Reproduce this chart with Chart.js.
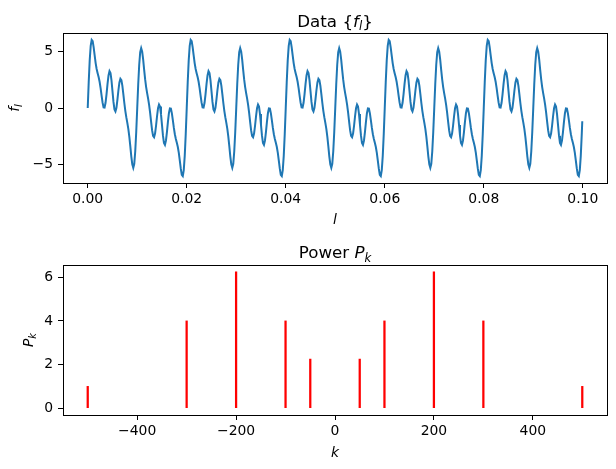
<!DOCTYPE html>
<html>
<head>
<meta charset="utf-8">
<script src="https://cdn.jsdelivr.net/npm/chart.js@4.4.0/dist/chart.umd.min.js"></script>
<style>
body { margin: 0; background: #fff; }
#wrap { position: relative; width: 616px; height: 469px; }
canvas { position: absolute; left: 0; }
#top { top: 0; }
#bottom { top: 234px; }
</style>
</head>
<body>
<div id="wrap">
<canvas id="top" width="616" height="234"></canvas>
<canvas id="bottom" width="616" height="235"></canvas>
</div>
<script>
// signal f_l, one sample every 0.0002 s, last sample at 0.0999
const sampleStep = 0.0002;
const lastTime = 0.0999;
const signal = [
    0, 2.29, 4.21, 5.49, 6.03, 5.92, 5.37, 4.65, 3.97, 3.45, 3.08, 2.74, 2.32, 1.76, 1.10, 0.47, 0.06, 0.04, 0.46, 1.22,
    2.13, 2.89, 3.26, 3.10, 2.45, 1.50, 0.54, -0.13, -0.31, 0.02, 0.73, 1.57, 2.26, 2.59, 2.47, 1.96, 1.21, 0.42, -0.27, -0.83,
    -1.31, -1.85, -2.53, -3.37, -4.27, -4.99, -5.29, -4.93, -3.83, -2.10, 0, 2.10, 3.83, 4.93, 5.29, 4.99, 4.27, 3.37, 2.53, 1.85,
    1.31, 0.83, 0.27, -0.42, -1.21, -1.96, -2.47, -2.59, -2.26, -1.57, -0.73, -0.02, 0.31, 0.13, -0.54, -1.50, -2.45, -3.10, -3.26, -2.89,
    -2.13, -1.22, -0.46, -0.04, -0.06, -0.47, -1.10, -1.76, -2.32, -2.74, -3.08, -3.45, -3.97, -4.65, -5.37, -5.92, -6.03, -5.49, -4.21, -2.29,

    0, 2.29, 4.21, 5.49, 6.03, 5.92, 5.37, 4.65, 3.97, 3.45, 3.08, 2.74, 2.32, 1.76, 1.10, 0.47, 0.06, 0.04, 0.46, 1.22,
    2.13, 2.89, 3.26, 3.10, 2.45, 1.50, 0.54, -0.13, -0.31, 0.02, 0.73, 1.57, 2.26, 2.59, 2.47, 1.96, 1.21, 0.42, -0.27, -0.83,
    -1.31, -1.85, -2.53, -3.37, -4.27, -4.99, -5.29, -4.93, -3.83, -2.10, 0, 2.10, 3.83, 4.93, 5.29, 4.99, 4.27, 3.37, 2.53, 1.85,
    1.31, 0.83, 0.27, -0.42, -1.21, -1.96, -2.47, -2.59, -2.26, -1.57, -0.73, -0.02, 0.31, 0.13, -0.54, -1.50, -2.45, -3.10, -3.26, -2.89,
    -2.13, -1.22, -0.46, -0.04, -0.06, -0.47, -1.10, -1.76, -2.32, -2.74, -3.08, -3.45, -3.97, -4.65, -5.37, -5.92, -6.03, -5.49, -4.21, -2.29,

    0, 2.29, 4.21, 5.49, 6.03, 5.92, 5.37, 4.65, 3.97, 3.45, 3.08, 2.74, 2.32, 1.76, 1.10, 0.47, 0.06, 0.04, 0.46, 1.22,
    2.13, 2.89, 3.26, 3.10, 2.45, 1.50, 0.54, -0.13, -0.31, 0.02, 0.73, 1.57, 2.26, 2.59, 2.47, 1.96, 1.21, 0.42, -0.27, -0.83,
    -1.31, -1.85, -2.53, -3.37, -4.27, -4.99, -5.29, -4.93, -3.83, -2.10, 0, 2.10, 3.83, 4.93, 5.29, 4.99, 4.27, 3.37, 2.53, 1.85,
    1.31, 0.83, 0.27, -0.42, -1.21, -1.96, -2.47, -2.59, -2.26, -1.57, -0.73, -0.02, 0.31, 0.13, -0.54, -1.50, -2.45, -3.10, -3.26, -2.89,
    -2.13, -1.22, -0.46, -0.04, -0.06, -0.47, -1.10, -1.76, -2.32, -2.74, -3.08, -3.45, -3.97, -4.65, -5.37, -5.92, -6.03, -5.49, -4.21, -2.29,

    0, 2.29, 4.21, 5.49, 6.03, 5.92, 5.37, 4.65, 3.97, 3.45, 3.08, 2.74, 2.32, 1.76, 1.10, 0.47, 0.06, 0.04, 0.46, 1.22,
    2.13, 2.89, 3.26, 3.10, 2.45, 1.50, 0.54, -0.13, -0.31, 0.02, 0.73, 1.57, 2.26, 2.59, 2.47, 1.96, 1.21, 0.42, -0.27, -0.83,
    -1.31, -1.85, -2.53, -3.37, -4.27, -4.99, -5.29, -4.93, -3.83, -2.10, 0, 2.10, 3.83, 4.93, 5.29, 4.99, 4.27, 3.37, 2.53, 1.85,
    1.31, 0.83, 0.27, -0.42, -1.21, -1.96, -2.47, -2.59, -2.26, -1.57, -0.73, -0.02, 0.31, 0.13, -0.54, -1.50, -2.45, -3.10, -3.26, -2.89,
    -2.13, -1.22, -0.46, -0.04, -0.06, -0.47, -1.10, -1.76, -2.32, -2.74, -3.08, -3.45, -3.97, -4.65, -5.37, -5.92, -6.03, -5.49, -4.21, -2.29,

    0, 2.29, 4.21, 5.49, 6.03, 5.92, 5.37, 4.65, 3.97, 3.45, 3.08, 2.74, 2.32, 1.76, 1.10, 0.47, 0.06, 0.04, 0.46, 1.22,
    2.13, 2.89, 3.26, 3.10, 2.45, 1.50, 0.54, -0.13, -0.31, 0.02, 0.73, 1.57, 2.26, 2.59, 2.47, 1.96, 1.21, 0.42, -0.27, -0.83,
    -1.31, -1.85, -2.53, -3.37, -4.27, -4.99, -5.29, -4.93, -3.83, -2.10, 0, 2.10, 3.83, 4.93, 5.29, 4.99, 4.27, 3.37, 2.53, 1.85,
    1.31, 0.83, 0.27, -0.42, -1.21, -1.96, -2.47, -2.59, -2.26, -1.57, -0.73, -0.02, 0.31, 0.13, -0.54, -1.50, -2.45, -3.10, -3.26, -2.89,
    -2.13, -1.22, -0.46, -0.04, -0.06, -0.47, -1.10, -1.76, -2.32, -2.74, -3.08, -3.45, -3.97, -4.65, -5.37, -5.92, -6.03, -5.49, -4.21, -2.29,

    -1.17
];

// power spectrum
const freqs = [-500, -300, -200, -100, -50, 50, 100, 200, 300, 500];
const power = [1, 4, 6.25, 4, 2.25, 2.25, 4, 6.25, 4, 1];

// tick labels
const timeTicks = [0, 0.02, 0.04, 0.06, 0.08, 0.10];
const signalTicks = [-5, 0, 5];
const freqTicks = [-400, -200, 0, 200, 400];
const powerTicks = [0, 2, 4, 6];

const FONT = 'DejaVu Sans';
Chart.defaults.font.family = FONT;
Chart.defaults.font.size = 13.9;
Chart.defaults.color = '#000';

const minus = v => String(v).replace('-', '\u2212');

// text with italic / subscript parts, like matplotlib mathtext
function drawMath(ctx, lab) {
    const size = lab.size || 13.9;
    const fontFor = p => (p[1] ? 'italic ' : '') + (p[1] === 's' ? size * 0.7 : size) + 'px "' + FONT + '"';
    ctx.save();
    ctx.translate(lab.x, lab.y);
    if (lab.rotate) ctx.rotate(-Math.PI / 2);
    let w = 0;
    lab.parts.forEach(p => { ctx.font = fontFor(p); w += ctx.measureText(p[0]).width; });
    let cx = -w / 2;
    ctx.fillStyle = '#000';
    ctx.textBaseline = 'alphabetic';
    lab.parts.forEach(p => {
        ctx.font = fontFor(p);
        ctx.fillText(p[0], cx, p[1] === 's' ? size * 0.22 : 0);
        cx += ctx.measureText(p[0]).width;
    });
    ctx.restore();
}

function framePlugin(labels) {
    return {
        id: 'frame',
        afterDraw(chart) {
            const { ctx, chartArea: a } = chart;
            ctx.save();
            ctx.strokeStyle = '#000';
            ctx.lineWidth = 1;
            ctx.strokeRect(a.left + 0.5, a.top + 0.5, a.right - a.left, a.bottom - a.top);
            ctx.restore();
            labels.forEach(l => drawMath(ctx, l));
        }
    };
}

function makeAxis(min, max, ticks, fmt, fitSize, isX) {
    return {
        type: 'linear',
        min: min,
        max: max,
        offset: false,
        afterBuildTicks: s => { s.ticks = ticks.map(v => ({ value: v })); },
        ticks: { callback: fmt, autoSkip: false, maxRotation: 0, padding: isX ? 3 : 5 },
        grid: { drawOnChartArea: false, offset: false, tickLength: 5, tickColor: '#000', tickWidth: 1 },
        border: { display: false },
        afterFit: s => { if (isX) s.height = fitSize; else s.width = fitSize; }
    };
}

// upper plot: the data
const points = signal.map((v, i) => ({ x: i === signal.length - 1 ? lastTime : i * sampleStep, y: v }));

new Chart(document.getElementById('top'), {
    type: 'line',
    data: {
        datasets: [{
            data: points,
            borderColor: '#1f77b4',
            borderWidth: 2,
            pointRadius: 0,
            tension: 0,
            fill: false
        }]
    },
    options: {
        responsive: false,
        animation: false,
        layout: { padding: { top: 33, right: 9, left: 0, bottom: 0 } },
        plugins: { legend: { display: false }, title: { display: false }, tooltip: { enabled: false } },
        scales: {
            x: makeAxis(-0.004995, 0.104895, timeTicks, v => v.toFixed(2), 51, true),
            y: makeAxis(-6.633, 6.633, signalTicks, minus, 63, false)
        }
    },
    plugins: [framePlugin([
        { parts: [['Data ', ''], ['{', ''], ['f', 'i'], ['l', 's'], ['}', '']], x: 335, y: 26.5, size: 16.7 },
        { parts: [['l', 'i']], x: 335, y: 224 },
        { parts: [['f', 'i'], ['l', 's']], x: 19, y: 108, rotate: true }
    ])]
});

// lower plot: power spectrum as stems
new Chart(document.getElementById('bottom'), {
    type: 'bar',
    data: {
        datasets: [{
            data: freqs.map((k, i) => ({ x: k, y: power[i] })),
            backgroundColor: '#ff0000',
            borderWidth: 0,
            barThickness: 1.6
        }]
    },
    options: {
        responsive: false,
        animation: false,
        layout: { padding: { top: 31, right: 9, left: 0, bottom: 0 } },
        plugins: { legend: { display: false }, title: { display: false }, tooltip: { enabled: false } },
        scales: {
            x: makeAxis(-550, 550, freqTicks, minus, 54, true),
            y: makeAxis(-0.3125, 6.5625, powerTicks, minus, 63, false)
        }
    },
    plugins: [framePlugin([
        { parts: [['Power ', ''], ['P', 'i'], ['k', 's']], x: 335, y: 24, size: 16.7 },
        { parts: [['k', 'i']], x: 335, y: 222.5 },
        { parts: [['P', 'i'], ['k', 's']], x: 33, y: 106, rotate: true }
    ])]
});
</script>
</body>
</html>
